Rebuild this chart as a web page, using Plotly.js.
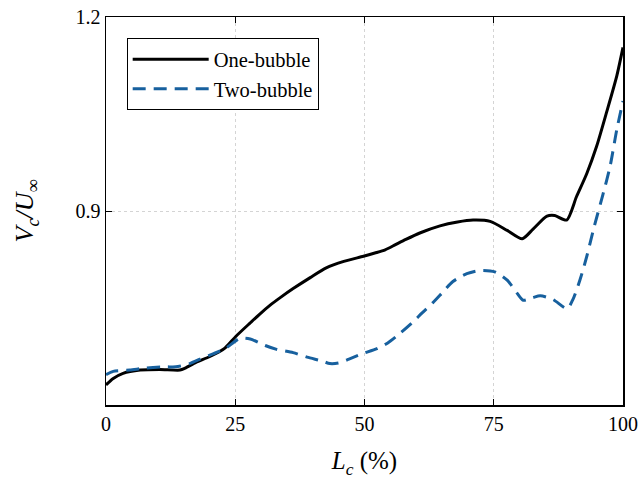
<!DOCTYPE html>
<html>
<head>
<meta charset="utf-8">
<script src="https://cdn.plot.ly/plotly-3.0.1.min.js"></script>
<style>html,body{margin:0;padding:0;background:#fff;}#chart{width:640px;height:482px;}</style>
</head>
<body>
<div id="chart"></div>
<script>
// Convection velocity along the chord, one- vs two-bubble regimes
const oneX = [0, 1.4, 3.3, 6.6, 10.4, 14.3, 15.3, 17.4, 20.1, 23, 25.1, 27.9, 29.8, 31.7, 33.7, 36.2, 39.5, 42.6, 46, 49.8, 52, 54, 56, 58, 60.7, 64.6, 68, 71, 74.3, 77.6, 80.5, 82.6, 85.3, 86.8, 89.1, 91, 93, 94.9, 96.8, 98.8, 100];
const oneY = [0.631, 0.641, 0.649, 0.654, 0.655, 0.654, 0.657, 0.666, 0.675, 0.688, 0.706, 0.727, 0.741, 0.754, 0.766, 0.780, 0.797, 0.812, 0.822, 0.830, 0.835, 0.840, 0.848, 0.856, 0.866, 0.877, 0.883, 0.886, 0.884, 0.870, 0.857, 0.872, 0.892, 0.893, 0.886, 0.922, 0.958, 1.000, 1.052, 1.109, 1.153];

const twoX = [0, 1.4, 4.6, 7.5, 11.4, 13.5, 16.2, 18.2, 20.7, 23.2, 25.9, 27.9, 30.8, 33, 36.2, 38.9, 41.8, 43.3, 45, 47, 49.5, 52.4, 54.5, 56.9, 59.2, 61.1, 63.2, 65.2, 67.1, 69.8, 72.3, 75.2, 77.6, 79.5, 80.7, 82.5, 84, 86.5, 89.2, 90.3, 91.7, 93, 94.4, 96.1, 97.5, 98.8, 100];
const twoY = [0.647, 0.652, 0.654, 0.657, 0.659, 0.659, 0.664, 0.671, 0.679, 0.688, 0.703, 0.702, 0.692, 0.686, 0.681, 0.674, 0.668, 0.664, 0.665, 0.671, 0.679, 0.687, 0.696, 0.711, 0.727, 0.742, 0.758, 0.775, 0.791, 0.803, 0.808, 0.806, 0.793, 0.773, 0.762, 0.766, 0.769, 0.763, 0.749, 0.763, 0.794, 0.830, 0.875, 0.925, 0.969, 1.026, 1.070];

const xTicks = [0, 25, 50, 75, 100];
const yTicks = [0.9, 1.2];

const serif = 'Liberation Serif';

const traces = [
  {x: oneX, y: oneY, name: 'One-bubble', mode: 'lines',
   line: {color: '#000000', width: 3, shape: 'spline', smoothing: 0.7}},
  {x: twoX, y: twoY, name: 'Two-bubble', mode: 'lines',
   line: {color: '#17609e', width: 3, dash: '13px,8px', shape: 'spline', smoothing: 0.7}}
];

const axisCommon = {
  showline: true, linecolor: '#000', linewidth: 1.5, mirror: 'ticks',
  ticks: 'inside', ticklen: 6, tickwidth: 1, tickcolor: '#000',
  showgrid: true, gridcolor: '#d4d4d4', griddash: 'dot', gridwidth: 1,
  zeroline: false, tickfont: {family: serif, size: 20, color: '#000'}
};

const layout = {
  width: 640, height: 482,
  font: {family: serif, color: '#000'},
  margin: {l: 106, r: 17, t: 17, b: 77},
  paper_bgcolor: '#fff', plot_bgcolor: '#fff',
  showlegend: true,
  legend: {
    x: 0.04, y: 0.945, xanchor: 'left', yanchor: 'top',
    bgcolor: '#fff', bordercolor: '#000', borderwidth: 1,
    font: {family: serif, size: 20.5, color: '#000'},
    itemwidth: 76, tracegroupgap: 2
  },
  xaxis: Object.assign({}, axisCommon, {
    range: [0, 100], tickvals: xTicks, ticktext: xTicks.map(String),
    title: {text: '<i>L</i><sub><i>c</i></sub> (%)', font: {family: serif, size: 25, color: '#000'}, standoff: 18}
  }),
  yaxis: Object.assign({}, axisCommon, {
    range: [0.6, 1.2], tickvals: yTicks, ticktext: ['0.9', '1.2'],
    title: {text: '<i>V</i><sub><i>c</i></sub><i>/U</i><sub>∞</sub>', font: {family: serif, size: 26, color: '#000'}, standoff: 34}
  })
};

Plotly.newPlot('chart', traces, layout, {displayModeBar: false, staticPlot: true});
</script>
</body>
</html>
